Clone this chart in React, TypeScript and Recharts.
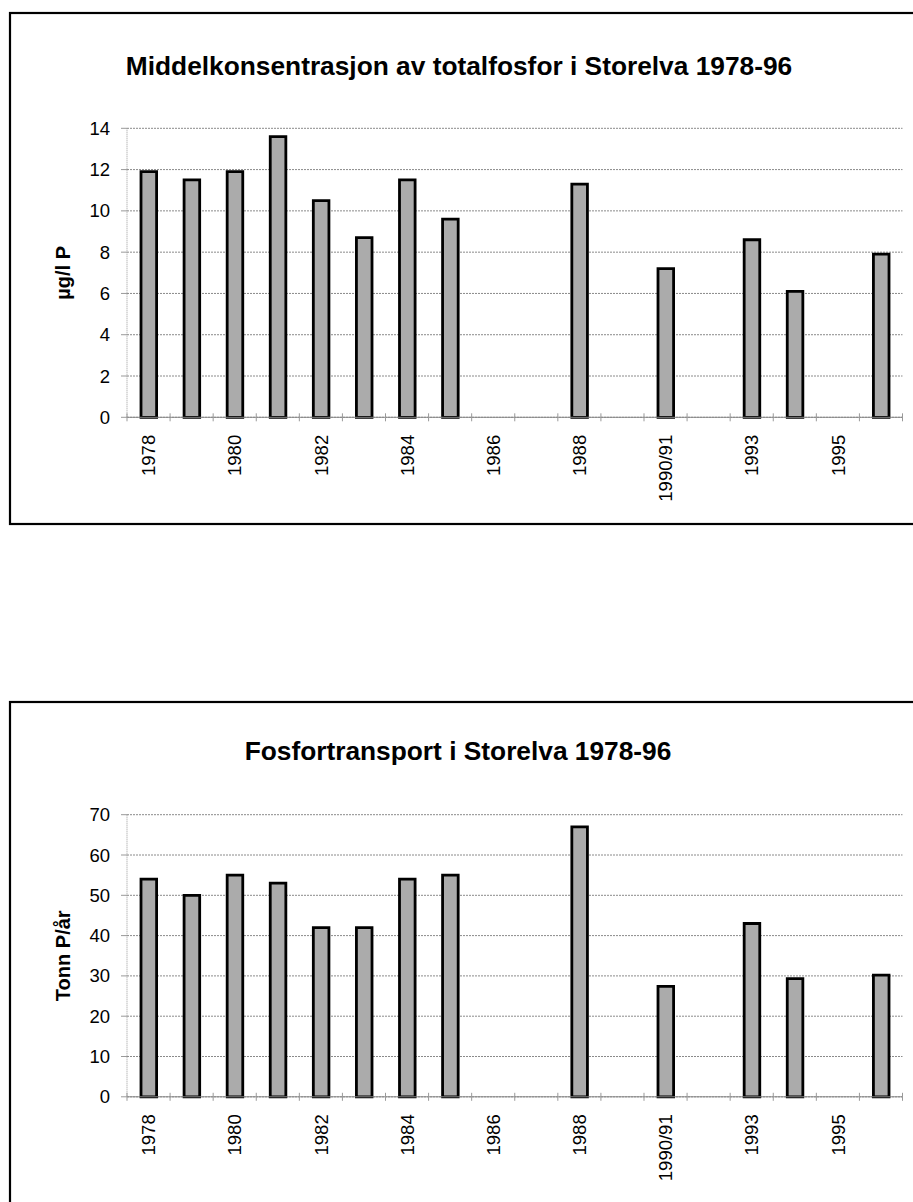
import React from 'react';
import { BarChart, Bar, XAxis, YAxis, CartesianGrid } from 'recharts';

const categories = ['1978', '1979', '1980', '1981', '1982', '1983', '1984', '1985', '1986', '1987', '1988', '1989', '1990/91', '1992', '1993', '1994', '1995', '1996'];
const concentration: (number | null)[] = [11.9, 11.5, 11.9, 13.6, 10.5, 8.7, 11.5, 9.6, null, null, 11.3, null, 7.2, null, 8.6, 6.1, null, 7.9];
const transport: (number | null)[] = [54, 50, 55, 53, 42, 42, 54, 55, null, null, 67, null, 27.4, null, 43, 29.3, null, 30.2];
const concTicks = [0, 2, 4, 6, 8, 10, 12, 14];
const transTicks = [0, 10, 20, 30, 40, 50, 60, 70];

const title1 = 'Middelkonsentrasjon av totalfosfor i Storelva 1978-96';
const title2 = 'Fosfortransport i Storelva 1978-96';
const yLabel1 = 'µg/l P';
const yLabel2 = 'Tonn P/år';

const FONT = '"Liberation Sans", Arial, sans-serif';

const data1 = categories.map((c, i) => ({ year: c, value: concentration[i] }));
const data2 = categories.map((c, i) => ({ year: c, value: transport[i] }));

const XTick = (props: any) => {
  const { x, y, payload, index, width } = props;
  const n = categories.length;
  const band = typeof payload?.offset === 'number' && payload.offset > 0 ? payload.offset * 2 : width / n;
  const left = x - band / 2;
  const ty = y + 17.5;
  return (
    <g>
      <line x1={left} x2={left} y1={y - 4} y2={y + 4} stroke="#999" strokeWidth={1} />
      {index === n - 1 && (
        <line x1={x + band / 2} x2={x + band / 2} y1={y - 4} y2={y + 4} stroke="#999" strokeWidth={1} />
      )}
      {index % 2 === 0 && (
        <text
          x={x}
          y={ty}
          dy="0.36em"
          transform={`rotate(-90 ${x} ${ty})`}
          textAnchor="end"
          fontSize={18.5}
          fontFamily={FONT}
          fill="#000"
        >
          {payload.value}
        </text>
      )}
    </g>
  );
};

const YLabel = (props: any) => {
  const { viewBox, value } = props;
  const cx = viewBox.x + 70;
  const cy = viewBox.y + viewBox.height / 2;
  return (
    <text
      x={cx}
      y={cy}
      transform={`rotate(-90 ${cx} ${cy})`}
      textAnchor="middle"
      fontSize={20}
      fontWeight="bold"
      fontFamily={FONT}
      fill="#000"
    >
      {value}
    </text>
  );
};

type PanelProps = {
  data: { year: string; value: number | null }[];
  ticks: number[];
  max: number;
  label: string;
  marginTop: number;
  marginBottom: number;
};

const Panel = ({ data, ticks, max, label, marginTop, marginBottom }: PanelProps) => (
  <BarChart
    width={913}
    height={540}
    data={data}
    margin={{ top: marginTop, right: 10.5, bottom: marginBottom, left: 0 }}
    barCategoryGap={0}
  >
    <CartesianGrid vertical={false} stroke="#8a8a8a" strokeDasharray="2 1" />
    <XAxis
      dataKey="year"
      interval={0}
      height={100}
      tickSize={0}
      tickMargin={0}
      axisLine={{ stroke: '#888' }}
      tickLine={false}
      tick={<XTick />}
    />
    <YAxis
      width={127}
      domain={[0, max]}
      ticks={ticks}
      interval={0}
      tickSize={6}
      tickMargin={11}
      axisLine={{ stroke: '#999', strokeDasharray: '1 1' }}
      tickLine={{ stroke: '#999' }}
      tick={{ fontSize: 18.5, fontFamily: FONT, fill: '#000' }}
      label={<YLabel value={label} />}
    />
    <Bar
      dataKey="value"
      barSize={15.6}
      fill="#ababab"
      stroke="#000"
      strokeWidth={2.8}
      isAnimationActive={false}
    />
  </BarChart>
);

export default function App() {
  return (
    <div
      style={{
        position: 'absolute',
        left: 0,
        top: 0,
        width: 913,
        height: 1202,
        overflow: 'hidden',
        background: '#fff',
        fontFamily: FONT,
      }}
    >
      <svg width={913} height={1202} style={{ position: 'absolute', left: 0, top: 0 }}>
        <rect x={10} y={13} width={930} height={511} fill="none" stroke="#000" strokeWidth={2.2} />
        <rect x={10} y={702} width={930} height={560} fill="none" stroke="#000" strokeWidth={2.2} />
        <text x={459} y={75} textAnchor="middle" fontSize={26.3} fontWeight="bold" fontFamily={FONT} fill="#000">
          {title1}
        </text>
        <text x={458} y={760} textAnchor="middle" fontSize={26.3} fontWeight="bold" fontFamily={FONT} fill="#000">
          {title2}
        </text>
      </svg>
      <div style={{ position: 'absolute', left: 0, top: 0 }}>
        <Panel data={data1} ticks={concTicks} max={14} label={yLabel1} marginTop={128.3} marginBottom={22.7} />
      </div>
      <div style={{ position: 'absolute', left: 0, top: 686 }}>
        <Panel data={data2} ticks={transTicks} max={70} label={yLabel2} marginTop={128.7} marginBottom={29.2} />
      </div>
    </div>
  );
}
